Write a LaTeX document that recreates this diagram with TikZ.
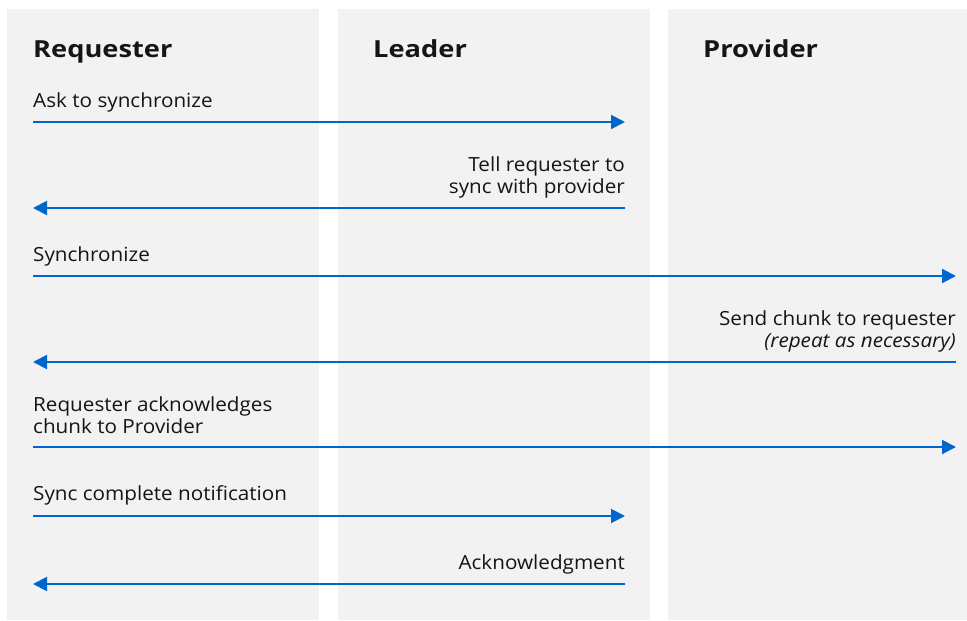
\documentclass[tikz,border=0pt]{standalone}
\usepackage{fontspec}
\setmainfont{Open Sans}[FakeStretch=1.06]
\newfontfamily\headfont{Open Sans}[FakeStretch=1.16]
\usetikzlibrary{arrows.meta}
\definecolor{lanegray}{HTML}{F2F2F2}
\definecolor{msgblue}{HTML}{0066CC}
\definecolor{inktext}{HTML}{151515}

\begin{document}
\begin{tikzpicture}[x=1pt,y=-1pt,
  lane/.style={fill=lanegray,draw=none},
  head/.style={font=\headfont\fontsize{23.5}{28}\selectfont\bfseries,text=inktext,anchor=base west,inner sep=0pt},
  msgl/.style={font=\fontsize{19.5}{22}\selectfont,text=inktext,anchor=base west,align=left,inner sep=0pt},
  msgr/.style={font=\fontsize{19.5}{22}\selectfont,text=inktext,anchor=base east,align=right,inner sep=0pt},
  call/.style={draw=msgblue,line width=2pt,-{Triangle[length=14pt,width=14pt]}}]

\useasboundingbox (0,0) rectangle (967,621);

% lanes
\fill[lane] (7,9) rectangle (319,620);
\fill[lane] (338,9) rectangle (650,620);
\fill[lane] (668,9) rectangle (967,620);

\node[head] (reqhead) at (33,57) {Requester};
\node[head] (leadhead) at (373,57) {Leader};
\node[head] (provhead) at (703,57) {Provider};

% lifeline end points
\coordinate (req1) at (33,122);  \coordinate (lead1) at (625,122);
\coordinate (req2) at (33,208);  \coordinate (lead2) at (625,208);
\coordinate (req3) at (33,276);  \coordinate (prov3) at (956,276);
\coordinate (req4) at (33,362);  \coordinate (prov4) at (956,362);
\coordinate (req5) at (33,447);  \coordinate (prov5) at (956,447);
\coordinate (req6) at (33,516);  \coordinate (lead6) at (625,516);
\coordinate (req7) at (33,584);  \coordinate (lead7) at (625,584);

% messages
\node[msgl] (ask) at (33,107) {Ask to synchronize};
\draw[call] (req1) -- (lead1);

\node[msgr] (tell) at (625,193) {Tell requester to\\sync with provider};
\draw[call] (lead2) -- (req2);

\node[msgl] (sync) at (33,261) {Synchronize};
\draw[call] (req3) -- (prov3);

\node[msgr] (chunk) at (956,347) {Send chunk to requester\\\textit{(repeat as necessary)}};
\draw[call] (prov4) -- (req4);

\node[msgl] (ack) at (33,433) {Requester acknowledges\\chunk to Provider};
\draw[call] (req5) -- (prov5);

\node[msgl] (done) at (33,500) {Sync complete notification};
\draw[call] (req6) -- (lead6);

\node[msgr] (ackn) at (625,569) {Acknowledgment};
\draw[call] (lead7) -- (req7);

\end{tikzpicture}
\end{document}
